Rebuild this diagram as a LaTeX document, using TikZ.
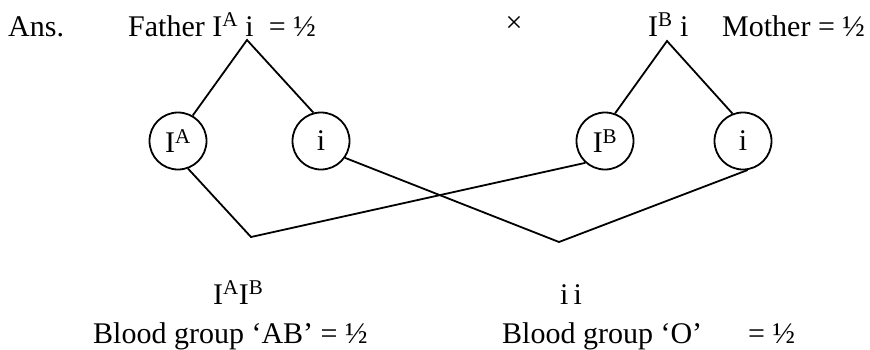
\documentclass[tikz,border=0pt]{standalone}
\usepackage{fontspec}
\setmainfont{Liberation Serif}
\tikzset{
  allele/.style={draw, circle, line width=1.8pt, minimum size=57pt, inner sep=0pt},
  lbl/.style={anchor=base west, inner sep=0pt},
  cross/.style={line width=1.8pt}
}
\newcommand{\sps}[1]{\textsuperscript{#1}}
\begin{document}
\begin{tikzpicture}[x=1pt, y=-1pt, font=\fontsize{30}{34}\selectfont]
  \useasboundingbox (0,0) rectangle (870,349);
  % parents
  \node[lbl] (ans) at (8,36) {Ans.};
  \node[lbl] (father) at (128,36) {Father I\sps{A} i \ = ½};
  \node[inner sep=0pt] (times) at (514,24) {×};
  \node[lbl] (pb) at (648,36) {I\sps{B} i};
  \node[lbl] (mother) at (722,36) {Mother = ½};
  \coordinate (fsplit) at (247,40);
  \coordinate (msplit) at (667,41);
  % gametes
  \node[allele] (fa) at (178,141) {I\sps{A}};
  \node[allele] (fi) at (321,141) {i};
  \node[allele] (mb) at (605,141) {I\sps{B}};
  \node[allele] (mi) at (743,141) {i};
  \draw[cross] (fa.60) -- (fsplit) -- (fi.105);
  \draw[cross] (mb.70) -- (msplit) -- (mi.111);
  % offspring
  \coordinate (ab) at (251,237);
  \coordinate (oo) at (559,242);
  \draw[cross] (fa.-70) -- (ab) -- (mb.-132);
  \draw[cross] (fi.-35) -- (oo) -- (mi.-81);
  \node[lbl] (gab) at (213,304) {I\sps{A}I\sps{B}};
  \node[lbl] (bab) at (93,343) {Blood group ‘AB’ = ½};
  \node[lbl] (gii) at (560,304) {i\,i};
  \node[lbl] (bo) at (502,343) {Blood group ‘O’};
  \node[lbl] (half) at (748,343) {= ½};
\end{tikzpicture}
\end{document}
